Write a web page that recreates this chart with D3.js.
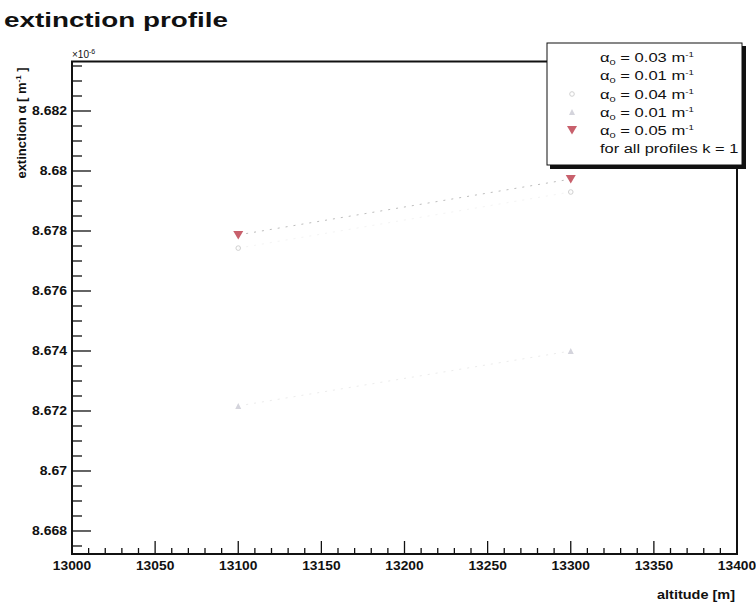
<!DOCTYPE html>
<html><head><meta charset="utf-8">
<script src="https://cdn.jsdelivr.net/npm/d3@7"></script>
<style>html,body{margin:0;padding:0;background:#fff}svg{display:block}text{font-family:"Liberation Sans",Arial,sans-serif}</style>
</head><body><svg id="c" width="756" height="603"></svg>
<script>
// ---- data ----
const altitudes = [13100, 13300];
const alpha0Labels = ["0.03", "0.01", "0.04", "0.01", "0.05"];
const series1 = [8.67787, 8.67973];   // alpha0 = 0.03 (white markers)
const series2 = [8.67217, 8.67400];   // alpha0 = 0.01 (white markers)
const series3 = [8.67743, 8.67930];   // alpha0 = 0.04
const series4 = [8.67217, 8.67400];   // alpha0 = 0.01
const series5 = [8.67787, 8.67973];   // alpha0 = 0.05
const xTickLabels = ["13000","13050","13100","13150","13200","13250","13300","13350","13400"];
const yTickLabels = ["8.668","8.67","8.672","8.674","8.676","8.678","8.68","8.682"];
const xDomain = [13000, 13400];
const yDomain = [8.667233, 8.68365];

const svg = d3.select("#c");
const L = 72, R = 737, T = 61.5, B = 554;
const x = d3.scaleLinear().domain(xDomain).range([L, R]);
const y = d3.scaleLinear().domain(yDomain).range([B, T]);

function stretchText(sel, sx) {
  sel.each(function(){
    const t = d3.select(this);
    const tx = +t.attr("x"), ty = +t.attr("y");
    t.attr("x", 0).attr("y", 0).attr("transform", `translate(${tx},${ty}) scale(${sx},1)`);
  });
}

// title
svg.append("text").attr("x", 4).attr("y", 27).attr("font-size", 20).attr("font-weight", "bold")
  .attr("fill", "#111").attr("textLength", 224).attr("lengthAdjust", "spacingAndGlyphs").text("extinction profile");

// frame
svg.append("rect").attr("x", L).attr("y", T).attr("width", R - L).attr("height", B - T)
  .attr("fill", "none").attr("stroke", "#111").attr("stroke-width", 2);

// x ticks
const xMinor = d3.range(xDomain[0], xDomain[1] + 0.1, 10);
svg.append("g").selectAll("line").data(xMinor).join("line")
  .attr("x1", d => x(d)).attr("x2", d => x(d))
  .attr("y1", B).attr("y2", d => (d % 50 === 0) ? B - 13 : B - 6)
  .attr("stroke", "#111").attr("stroke-width", 1.3);
const xl = svg.append("g").selectAll("text").data(xTickLabels).join("text")
  .attr("x", d => x(+d)).attr("y", 570).attr("text-anchor", "middle")
  .attr("font-size", 12).attr("font-weight", "bold").attr("fill", "#111").text(d => d);
stretchText(xl, 1.15);

// y ticks
const yMinor = d3.range(8.6675, yDomain[1], 0.0005);
svg.append("g").selectAll("line").data(yMinor).join("line")
  .attr("x1", L).attr("x2", d => (Math.abs(Math.round(d * 500) - d * 500) < 1e-6) ? L + 19 : L + 10)
  .attr("y1", d => y(d)).attr("y2", d => y(d))
  .attr("stroke", "#111").attr("stroke-width", 1.3);
const yl = svg.append("g").selectAll("text").data(yTickLabels).join("text")
  .attr("x", 67).attr("y", d => y(+d) + 4.5).attr("text-anchor", "end")
  .attr("font-size", 12.5).attr("font-weight", "bold").attr("fill", "#111").text(d => d);
stretchText(yl, 1.12);

// exponent
const ex = svg.append("text").attr("x", 72).attr("y", 58).attr("font-size", 10).attr("fill", "#111");
ex.append("tspan").text("×10");
ex.append("tspan").attr("dy", -4).attr("font-size", 7).text("-6");

// axis titles
svg.append("text").attr("x", 735).attr("y", 599).attr("text-anchor", "end")
  .attr("font-size", 12).attr("font-weight", "bold").attr("fill", "#111")
  .attr("textLength", 78).attr("lengthAdjust", "spacingAndGlyphs").text("altitude [m]");
const yt = svg.append("text").attr("transform", "translate(26,123) rotate(-90)")
  .attr("text-anchor", "middle").attr("font-size", 13).attr("font-weight", "bold").attr("fill", "#111");
yt.append("tspan").text("extinction α [ m");
yt.append("tspan").attr("dy", -5).attr("font-size", 8).text("-1");
yt.append("tspan").attr("dy", 5).text(" ]");

// series
const allSeries = [
  {vals: series1, color: "#ffffff", sym: "circle", line: "#ffffff"},
  {vals: series2, color: "#ffffff", sym: "circle", line: "#ffffff"},
  {vals: series3, color: "#d0d0d0", sym: "open", line: "#f4f4f4"},
  {vals: series4, color: "#d4d4dc", sym: "up", line: "#ececec"},
  {vals: series5, color: "#c8606c", sym: "down", line: "#bcbcbc"}
];
const line = d3.line().x((d, i) => x(altitudes[i])).y(d => y(d));
function drawMarker(g, sym, color, cx, cy) {
  if (sym === "down") {
    g.append("path").attr("d", `M${cx-5},${cy-4}L${cx+5},${cy-4}L${cx},${cy+4.5}Z`).attr("fill", color);
  } else if (sym === "up") {
    g.append("path").attr("d", `M${cx-3},${cy+3}L${cx+3},${cy+3}L${cx},${cy-3}Z`).attr("fill", color);
  } else if (sym === "open") {
    g.append("circle").attr("cx", cx).attr("cy", cy).attr("r", 2.3).attr("fill", "none").attr("stroke", color).attr("stroke-width", 1);
  } else {
    g.append("circle").attr("cx", cx).attr("cy", cy).attr("r", 3).attr("fill", color);
  }
}
const plot = svg.append("g");
allSeries.forEach(s => {
  plot.append("path").attr("d", line(s.vals)).attr("fill", "none")
    .attr("stroke", s.line).attr("stroke-width", 1).attr("stroke-dasharray", "2,6");
});
allSeries.forEach(s => {
  s.vals.forEach((v, i) => drawMarker(plot, s.sym, s.color, x(altitudes[i]), y(v)));
});

// legend
const lg = svg.append("g");
lg.append("rect").attr("x", 550).attr("y", 46).attr("width", 196).attr("height", 123).attr("fill", "#111");
lg.append("rect").attr("x", 547).attr("y", 43).attr("width", 195).attr("height", 122)
  .attr("fill", "#fff").attr("stroke", "#111").attr("stroke-width", 1);
const rowY = [57.5, 75.7, 94, 112, 130, 148];
alpha0Labels.forEach((lab, i) => {
  drawMarker(lg, allSeries[i].sym, allSeries[i].color, 572, rowY[i]);
  const t = lg.append("text").attr("x", 600).attr("y", rowY[i] + 4.5).attr("font-size", 12).attr("fill", "#111");
  t.append("tspan").text("α");
  t.append("tspan").attr("dy", 3).attr("font-size", 8).text("0");
  t.append("tspan").attr("dy", -3).text(" = " + lab + " m");
  t.append("tspan").attr("dy", -5).attr("font-size", 7).text("-1");
  stretchText(t, 1.38);
});
const ft = lg.append("text").attr("x", 600).attr("y", rowY[5] + 4.5).attr("font-size", 12).attr("fill", "#111")
  .text("for all profiles k = 1");
stretchText(ft, 1.37);
</script></body></html>
